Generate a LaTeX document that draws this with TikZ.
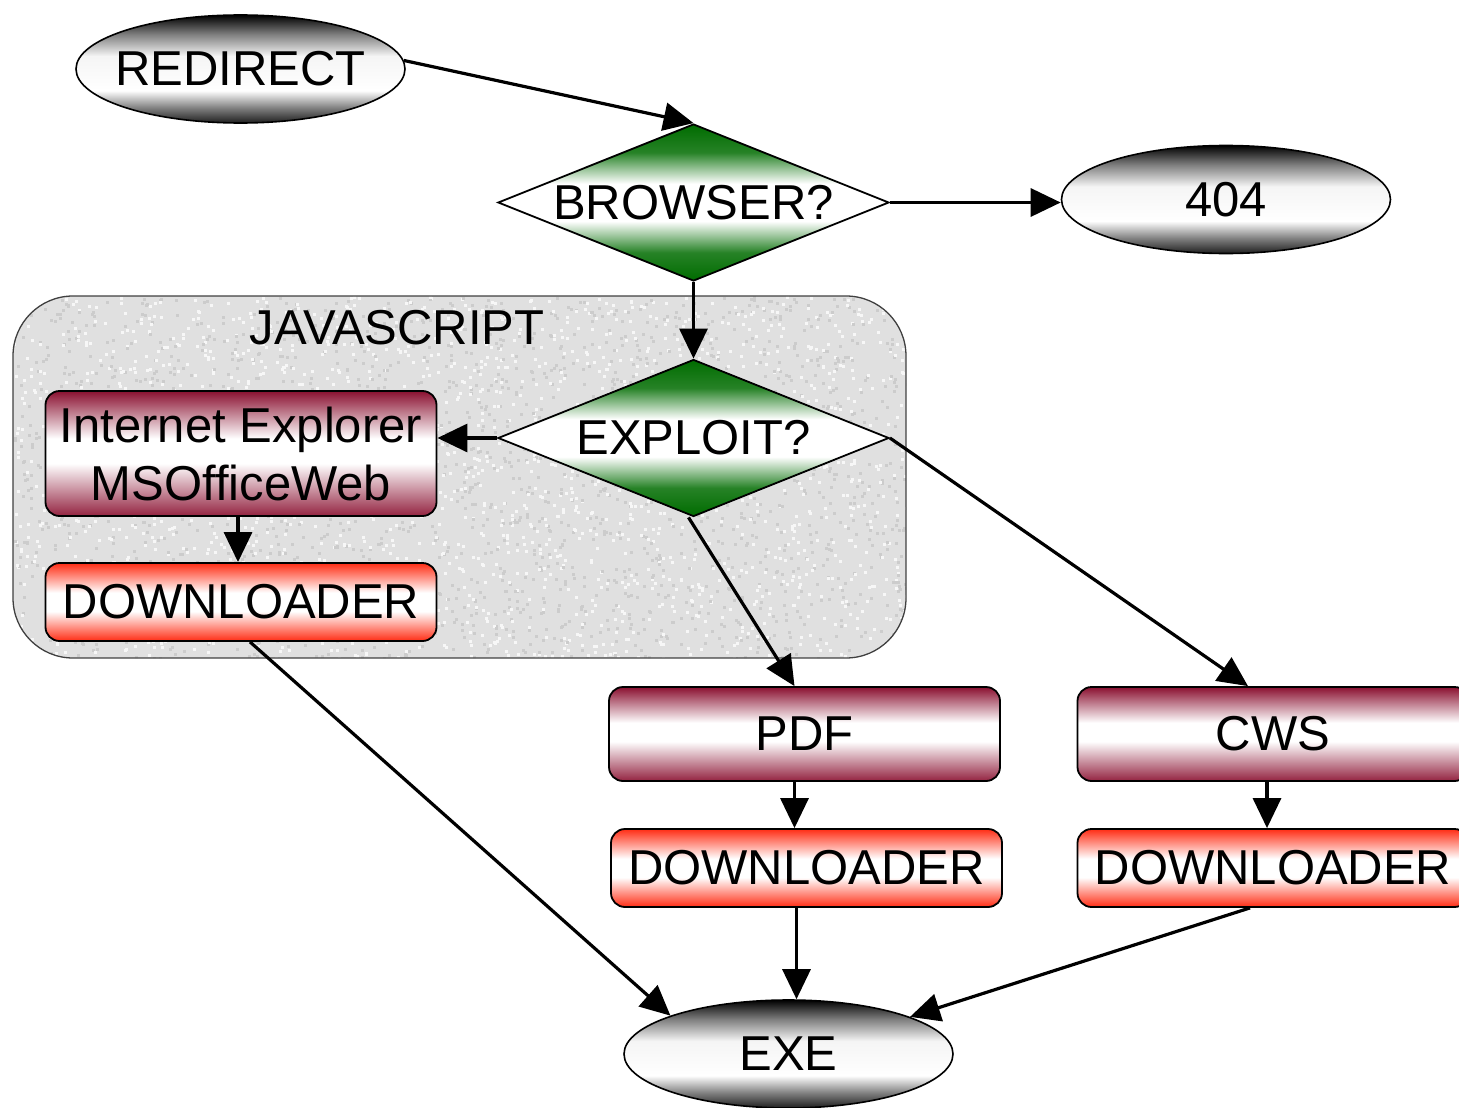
\documentclass[tikz,border=0pt]{standalone}
\usepackage{fontspec}
\setmainfont{Liberation Sans}
\usetikzlibrary{shapes.geometric,arrows.meta,calc}
\definecolor{dkgreen}{RGB}{0,108,0}
\definecolor{maroonc}{RGB}{138,16,48}
\definecolor{redc}{RGB}{255,45,20}
\definecolor{jsgray}{RGB}{224,224,224}
% vertical shadings: 25bp = bottom edge, 75bp = top edge
\pgfdeclareverticalshading{ellsh}{100bp}{color(0bp)=(black!88);color(25bp)=(black!88);color(32bp)=(black!50);color(40bp)=(white);color(56bp)=(black!4);color(66bp)=(black!50);color(75bp)=(black);color(100bp)=(black)}
\pgfdeclareverticalshading{greensh}{100bp}{color(0bp)=(dkgreen);color(25bp)=(dkgreen);color(34bp)=(dkgreen!85);color(44bp)=(white);color(56bp)=(white);color(66bp)=(dkgreen!85);color(75bp)=(dkgreen);color(100bp)=(dkgreen)}
\pgfdeclareverticalshading{maroonsh}{100bp}{color(0bp)=(maroonc);color(25bp)=(maroonc!92);color(46bp)=(white);color(56bp)=(white);color(75bp)=(maroonc);color(100bp)=(maroonc)}
\pgfdeclareverticalshading{redsh}{100bp}{color(0bp)=(redc);color(25bp)=(redc);color(44bp)=(white);color(56bp)=(white);color(75bp)=(redc);color(100bp)=(redc)}
\begin{document}
\begin{tikzpicture}[x=1pt,y=-1pt,
  every node/.style={font=\fontsize{49}{58}\selectfont},
  ell/.style={ellipse, draw, line width=1.6pt, shading=ellsh, minimum width=329pt, minimum height=108pt, inner sep=0pt},
  dia/.style={diamond, draw, line width=1.8pt, shading=greensh, minimum width=391pt, minimum height=157pt, inner sep=0pt},
  boxm/.style={rectangle, rounded corners=14pt, draw, line width=1.8pt, shading=maroonsh, minimum width=391pt, inner sep=0pt},
  boxr/.style={rectangle, rounded corners=14pt, draw, line width=1.8pt, shading=redsh, minimum width=391pt, minimum height=78pt, inner sep=0pt},
  arr/.style={-{Triangle[length=30pt,width=28pt]}, line width=3.2pt},
  jsbox/.style={rectangle, rounded corners=60pt, draw=black!75, line width=1.3pt, minimum width=893pt, minimum height=362pt, inner sep=0pt}
]
\useasboundingbox (0,0) rectangle (1459,1108);
% container with grainy texture
\begin{scope}
  \path[clip, rounded corners=60pt] (13,296) rectangle (906,658);
  \fill[jsgray] (13,296) rectangle (906,658);
  \pgfmathsetseed{7}
  \foreach \i in {1,...,4000}{
    \pgfmathsetmacro{\px}{13+rnd*893}
    \pgfmathsetmacro{\py}{296+rnd*362}
    \pgfmathsetmacro{\gl}{int(rnd*100)}
    \ifnum\gl<50
      \fill[black!20] (\px,\py) rectangle ++(3,3);
    \else
      \fill[white!97!black] (\px,\py) rectangle ++(3,3);
    \fi
  }
\end{scope}
\node[jsbox] (js) at (459.5,477) {};
\node (jslabel) at (397,328) {JAVASCRIPT};
% nodes
\node[ell] (redirect) at (240.5,69) {\makebox[0pt]{REDIRECT}};
\node[dia] (browser) at (693.5,202.5) {\makebox[0pt]{BROWSER?}};
\node[ell] (e404) at (1226,199.5) {404};
\node[dia] (exploit) at (693.5,438) {\makebox[0pt]{EXPLOIT?}};
\node[boxm, minimum height=125pt, align=center] (ie) at (241,453.5) {Internet Explorer\\MSOfficeWeb};
\node[boxr] (dl1) at (241,602) {DOWNLOADER};
\node[boxm, minimum height=94pt] (pdf) at (804.5,734) {PDF};
\node[boxr] (dl2) at (806.5,868) {DOWNLOADER};
\node[boxm, minimum height=94pt] (cws) at (1273,734) {CWS};
\node[boxr] (dl3) at (1273,868) {DOWNLOADER};
\node[ell] (exe) at (788.5,1054) {EXE};
% connectors
\draw[arr] (redirect.3) -- (browser.north);
\draw[arr] (browser.east) -- (browser.east -| e404.west);
\draw[arr] (browser.south) -- (exploit.north);
\draw[arr] (exploit.west) -- (exploit.west -| ie.east);
\draw[arr] ($(ie.south)+(-3,0)$) coordinate (c1) -- (c1 |- dl1.north);
\draw[arr] ($(exploit.south)+(-5,0)$) -- ($(pdf.north)+(-10,0)$);
\draw[arr] (exploit.east) -- ($(cws.north)+(-25,0)$);
\draw[arr] ($(pdf.south)+(-10,0)$) coordinate (c2) -- (c2 |- dl2.north);
\draw[arr] ($(cws.south)+(-6,0)$) coordinate (c3) -- (c3 |- dl3.north);
\draw[arr] ($(dl1.south)+(9,0)$) -- (exe.162);
\draw[arr] ($(dl2.south)+(-10,0)$) coordinate (c4) -- (c4 |- exe.north);
\draw[arr] ($(dl3.south)+(-23,0)$) -- (exe.17);
\end{tikzpicture}
\end{document}
